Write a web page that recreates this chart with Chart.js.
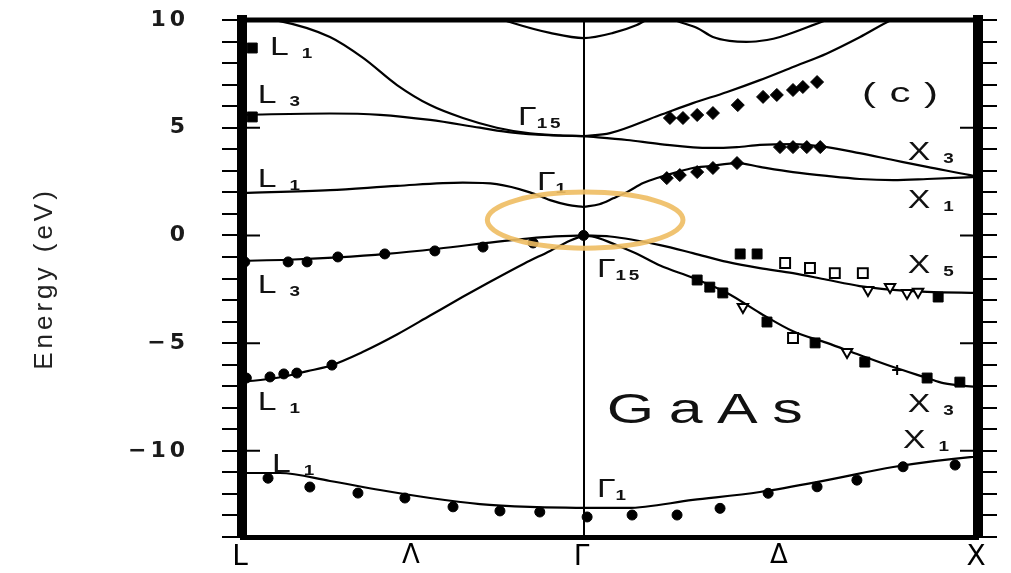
<!DOCTYPE html>
<html>
<head>
<meta charset="utf-8">
<title>GaAs band structure</title>
<script src="https://cdn.jsdelivr.net/npm/chart.js@4.4.1/dist/chart.umd.min.js"></script>
<style>
  html, body { margin: 0; padding: 0; background: #fff; overflow: hidden; }
  #wrap { width: 1011px; height: 573px; }
</style>
</head>
<body>
<div id="wrap"><canvas id="bands"></canvas></div>
<script>
// k along L -> Gamma -> X (units of 2pi/a, L sits at -sqrt(3)/2)
const kTickValues = [-0.866, -0.433, 0, 0.5, 1];
const kTickLabels = ['L', 'Λ', 'Γ', 'Δ', 'X'];
const energyTickValues = [10, 5, 0, -5, -10];
const energyTickLabels = ['10', '5', '0', '−5', '−10'];

// calculated bands, [k, E (eV)]
const bandTopGamma = [[-0.24, 10.25], [-0.179, 9.86], [-0.085, 9.4], [0, 9.16], [0.075, 9.4], [0.135, 9.77],
  [0.16, 10.0], [0.21, 10.15], [0.237, 9.95], [0.288, 9.63], [0.328, 9.21], [0.37, 9.03], [0.413, 8.98],
  [0.465, 9.07], [0.498, 9.21], [0.617, 10.0], [0.66, 10.25]];
const bandCbHighL = [[-0.866, 10.1], [-0.77, 9.95], [-0.643, 9.21], [-0.559, 8.24], [-0.473, 6.98], [-0.389, 6.05],
  [-0.306, 5.45], [-0.22, 5.0], [-0.136, 4.74], [-0.06, 4.64], [0, 4.61]];
const bandCbL3 = [[-0.866, 5.6], [-0.643, 5.66], [-0.516, 5.6], [-0.389, 5.36], [-0.263, 5.0], [-0.179, 4.77],
  [-0.09, 4.65], [0, 4.61]];
const bandCbLowL = [[-0.866, 1.97], [-0.643, 2.1], [-0.473, 2.3], [-0.306, 2.45], [-0.22, 2.38], [-0.136, 2.0],
  [-0.085, 1.64], [-0.04, 1.42], [0, 1.32]];
const bandVbTopL = [[-0.866, -1.18], [-0.75, -1.13], [-0.623, -1.02], [-0.5, -0.86], [-0.37, -0.62], [-0.2, -0.25],
  [-0.1, -0.08], [0, 0]];
const bandVbMidL = [[-0.866, -6.8], [-0.78, -6.62], [-0.7, -6.3], [-0.643, -6.05], [-0.559, -5.4], [-0.473, -4.6],
  [-0.389, -3.72], [-0.306, -2.85], [-0.237, -2.15], [-0.15, -1.3], [-0.085, -0.72], [-0.035, -0.25], [0, 0]];
const bandVbLowL = [[-0.866, -11.03], [-0.77, -11.03], [-0.643, -11.4], [-0.516, -11.82], [-0.389, -12.19],
  [-0.263, -12.47], [-0.136, -12.6], [0, -12.65]];
const bandCbUpR = [[0, 4.61], [0.067, 4.75], [0.194, 5.59], [0.277, 6.14], [0.364, 6.66], [0.447, 7.21],
  [0.531, 7.82], [0.617, 8.45], [0.7, 9.2], [0.78, 10.0], [0.82, 10.3]];
const bandCbMidR = [[0, 4.61], [0.11, 4.43], [0.194, 4.24], [0.32, 4.06], [0.389, 4.1], [0.447, 4.2], [0.531, 4.24],
  [0.617, 4.1], [0.7, 3.82], [0.785, 3.5], [0.871, 3.18], [0.98, 2.8], [1, 2.72]];
const bandCbLowR = [[0, 1.32], [0.04, 1.45], [0.075, 1.72], [0.11, 2.01], [0.151, 2.43], [0.194, 2.71],
  [0.237, 2.94], [0.277, 3.13], [0.32, 3.22], [0.389, 3.36], [0.447, 3.18], [0.531, 2.94], [0.617, 2.76],
  [0.7, 2.62], [0.785, 2.57], [0.871, 2.62], [1, 2.72]];
const bandVbTopR = [[0, 0], [0.067, -0.05], [0.194, -0.45], [0.277, -0.82], [0.364, -1.23], [0.447, -1.52],
  [0.531, -1.75], [0.617, -2.06], [0.7, -2.35], [0.785, -2.53], [0.871, -2.62], [1, -2.67]];
const bandVbMidR = [[0, 0], [0.03, -0.08], [0.09, -0.5], [0.135, -0.85], [0.194, -1.4], [0.277, -1.97],
  [0.364, -2.67], [0.447, -3.6], [0.531, -4.45], [0.617, -4.99], [0.7, -5.55], [0.785, -6.11], [0.871, -6.62],
  [0.912, -6.86], [1, -7.04]];
const bandVbLowR = [[0, -12.65], [0.11, -12.65], [0.277, -12.28], [0.447, -11.91], [0.617, -11.36],
  [0.785, -10.75], [0.98, -10.29], [1, -10.27]];

// measured points
const expCircles = [
  [-0.859, -1.23], [-0.749, -1.23], [-0.701, -1.23], [-0.623, -1.0], [-0.504, -0.86], [-0.377, -0.72],
  [-0.255, -0.54], [-0.128, -0.35], [0, 0],
  [-0.855, -6.62], [-0.795, -6.57], [-0.76, -6.43], [-0.727, -6.39], [-0.638, -6.02],
  [-0.8, -11.27], [-0.694, -11.68], [-0.572, -11.96], [-0.453, -12.19], [-0.331, -12.6], [-0.212, -12.79],
  [-0.111, -12.84], [0.009, -13.07],
  [0.123, -12.98], [0.237, -12.98], [0.346, -12.67], [0.468, -11.97], [0.592, -11.67], [0.693, -11.36],
  [0.81, -10.74], [0.942, -10.66]];
const expDiamonds = [
  [0.219, 5.45], [0.252, 5.45], [0.288, 5.59], [0.328, 5.68], [0.391, 6.05], [0.455, 6.43], [0.49, 6.52],
  [0.531, 6.75], [0.556, 6.89], [0.592, 7.12],
  [0.498, 4.1], [0.531, 4.1], [0.566, 4.1], [0.6, 4.1],
  [0.211, 2.66], [0.244, 2.8], [0.288, 2.94], [0.328, 3.13], [0.389, 3.36]];
const expSquares = [
  [-0.84, 8.7], [-0.84, 5.5],
  [0.397, -0.86], [0.44, -0.86], [0.899, -2.86],
  [0.288, -2.07], [0.32, -2.4], [0.353, -2.67], [0.465, -4.02], [0.587, -4.99], [0.713, -5.88],
  [0.871, -6.62], [0.954, -6.81]];
const expOpenSquares = [[0.511, -1.28], [0.574, -1.51], [0.637, -1.75], [0.708, -1.75], [0.531, -4.76]];
const expOpenTriangles = [[0.721, -2.53], [0.777, -2.4], [0.82, -2.67], [0.848, -2.62], [0.404, -3.32], [0.668, -5.41]];
const expCrosses = [[0.795, -6.25]];

// symmetry point labels: letter, subscript, k, E
const symLabels = [
  ['L', '1', -0.795, 8.37], ['L', '3', -0.826, 6.14], ['L', '1', -0.826, 2.25], ['L', '3', -0.826, -2.68],
  ['L', '1', -0.826, -8.1], ['L', '1', -0.79, -10.98],
  ['Γ', '15', -0.166, 5.12], ['Γ', '1', -0.118, 2.11], ['Γ', '15', 0.034, -1.93], ['Γ', '1', 0.034, -12.14],
  ['X', '3', 0.822, 3.5], ['X', '1', 0.822, 1.27], ['X', '5', 0.822, -1.75], ['X', '3', 0.822, -8.2],
  ['X', '1', 0.81, -9.87]];

// orange ring around the gap
const ringCenter = [0.004, 0.71];
const ringRadius = [0.248, 1.3];

const toXY = (pts) => pts.map(([x, y]) => ({ x, y }));

const bandLine = (pts) => ({
  data: toXY(pts),
  borderColor: '#000',
  borderWidth: 2.2,
  pointRadius: 0,
  cubicInterpolationMode: 'monotone',
  fill: false,
  order: 1,
});

const markers = (pts, style) => Object.assign({
  data: toXY(pts),
  showLine: false,
  clip: false,
  order: 0,
  pointBackgroundColor: '#000',
  pointBorderColor: '#000',
  pointBorderWidth: 1,
}, style);

// scanned figure uses a wide lettering, so stretch text horizontally
function wideText(ctx, text, px, py, font, sx, spacing) {
  ctx.save();
  ctx.translate(px, py);
  ctx.scale(sx, 1);
  ctx.font = font;
  ctx.letterSpacing = spacing + 'px';
  ctx.fillText(text, 0, 0);
  const w = ctx.measureText(text).width * sx;
  ctx.restore();
  return w;
}

// keep tick label overhang from pushing the plot area around
const noOverhang = (scale) => {
  scale.paddingTop = 0;
  scale.paddingBottom = 0;
};

const decorations = {
  id: 'decorations',
  beforeDraw(chart) {
    chart.ctx.letterSpacing = '4px';
  },
  beforeDatasetsDraw(chart) {
    chart.ctx.letterSpacing = '0px';
  },
  afterDatasetsDraw(chart) {
    const { ctx, chartArea: a, scales: { x, y } } = chart;
    ctx.save();
    ctx.strokeStyle = '#000';
    ctx.fillStyle = '#111';
    ctx.textAlign = 'left';
    ctx.textBaseline = 'alphabetic';

    // top frame
    ctx.lineWidth = 5;
    ctx.beginPath();
    ctx.moveTo(a.left - 5, a.top);
    ctx.lineTo(a.right + 5, a.top);
    ctx.stroke();

    // major ticks poke inside the frame
    ctx.lineWidth = 2;
    energyTickValues.forEach((v) => {
      const py = y.getPixelForValue(v);
      ctx.beginPath();
      ctx.moveTo(a.left, py); ctx.lineTo(a.left + 18, py);
      ctx.moveTo(a.right, py); ctx.lineTo(a.right - 18, py);
      ctx.stroke();
    });

    symLabels.forEach(([main, sub, k, e]) => {
      const px = x.getPixelForValue(k);
      const py = y.getPixelForValue(e);
      const w = wideText(ctx, main, px, py, '25px "Liberation Sans"', 1.35, 0);
      const gap = main === 'Γ' ? 0 : 13;
      wideText(ctx, sub, px + w + gap, py + 3, 'bold 14px "Liberation Sans"', 1.35, 2);
    });

    wideText(ctx, 'GaAs', x.getPixelForValue(0.059), y.getPixelForValue(-8.7), '42px "Liberation Sans"', 1.45, 10);
    wideText(ctx, '(c)', x.getPixelForValue(0.706), y.getPixelForValue(6.19), '28px "Liberation Sans"', 1.5, 9);

    // highlight ring
    const cx = x.getPixelForValue(ringCenter[0]);
    const cy = y.getPixelForValue(ringCenter[1]);
    const rx = Math.abs(x.getPixelForValue(ringCenter[0] + ringRadius[0]) - cx);
    const ry = Math.abs(y.getPixelForValue(ringCenter[1] + ringRadius[1]) - cy);
    ctx.strokeStyle = 'rgba(238, 188, 98, 0.9)';
    ctx.lineWidth = 5;
    ctx.beginPath();
    ctx.ellipse(cx, cy, rx, ry, 0, 0, Math.PI * 2);
    ctx.stroke();
    ctx.restore();
  },
};

new Chart(document.getElementById('bands'), {
  type: 'line',
  data: {
    datasets: [
      bandLine(bandTopGamma), bandLine(bandCbHighL), bandLine(bandCbL3), bandLine(bandCbLowL),
      bandLine(bandVbTopL), bandLine(bandVbMidL), bandLine(bandVbLowL),
      bandLine(bandCbUpR), bandLine(bandCbMidR), bandLine(bandCbLowR),
      bandLine(bandVbTopR), bandLine(bandVbMidR), bandLine(bandVbLowR),
      markers(expCircles, { pointStyle: 'circle', pointRadius: 5 }),
      markers(expDiamonds, { pointStyle: 'rectRot', pointRadius: 6.5 }),
      markers(expSquares, { pointStyle: 'rect', pointRadius: 7 }),
      markers(expOpenSquares, { pointStyle: 'rect', pointRadius: 7, pointBackgroundColor: '#fff', pointBorderWidth: 2 }),
      markers(expOpenTriangles, { pointStyle: 'triangle', pointRotation: 180, pointRadius: 6, pointBackgroundColor: '#fff', pointBorderWidth: 2 }),
      markers(expCrosses, { pointStyle: 'cross', pointRadius: 5, pointBorderWidth: 2 }),
    ],
  },
  options: {
    responsive: true,
    maintainAspectRatio: false,
    animation: false,
    events: [],
    layout: { padding: { top: 20, left: 0, right: 0, bottom: 0 } },
    plugins: { legend: { display: false }, tooltip: { enabled: false } },
    scales: {
      x: {
        type: 'linear',
        min: kTickValues[0],
        max: kTickValues[kTickValues.length - 1],
        afterBuildTicks: (scale) => { scale.ticks = kTickValues.map((v) => ({ value: v })); },
        afterFit: (scale) => { scale.height = 36; },
        ticks: {
          autoSkip: false,
          maxRotation: 0,
          padding: 4,
          color: '#000',
          font: (c) => ({ family: 'DejaVu Sans', size: c.index % 2 === 1 ? 26 : 28 }),
          callback: (v, i) => kTickLabels[i],
        },
        grid: {
          drawTicks: false,
          lineWidth: 2,
          color: (c) => (c.tick && c.tick.value === 0 ? '#000' : 'rgba(0,0,0,0)'),
        },
        border: { color: '#000', width: 5 },
      },
      y: {
        position: 'left',
        min: -14,
        max: 10,
        afterFit: (scale) => { scale.width = 242; noOverhang(scale); },
        ticks: {
          stepSize: 1,
          maxTicksLimit: 30,
          autoSkip: false,
          padding: 33,
          color: '#1a1a1a',
          font: { family: 'DejaVu Sans', size: 22, weight: 'bold' },
          callback: (v) => {
            const i = energyTickValues.indexOf(v);
            return i >= 0 ? energyTickLabels[i] : '';
          },
        },
        grid: { drawOnChartArea: false, tickLength: 20, lineWidth: 2, color: '#000' },
        border: { color: '#000', width: 10 },
        title: {
          display: true,
          text: 'Energy (eV)',
          color: '#222',
          font: { family: 'Liberation Sans', size: 26 },
          padding: { top: 29, bottom: 0 },
        },
      },
      y2: {
        position: 'right',
        min: -14,
        max: 10,
        afterFit: (scale) => { scale.width = 33; noOverhang(scale); },
        ticks: { stepSize: 1, maxTicksLimit: 30, autoSkip: false, callback: () => '' },
        grid: { drawOnChartArea: false, tickLength: 19, lineWidth: 2, color: '#000' },
        border: { color: '#000', width: 10 },
      },
    },
  },
  plugins: [decorations],
});
</script>
</body>
</html>
